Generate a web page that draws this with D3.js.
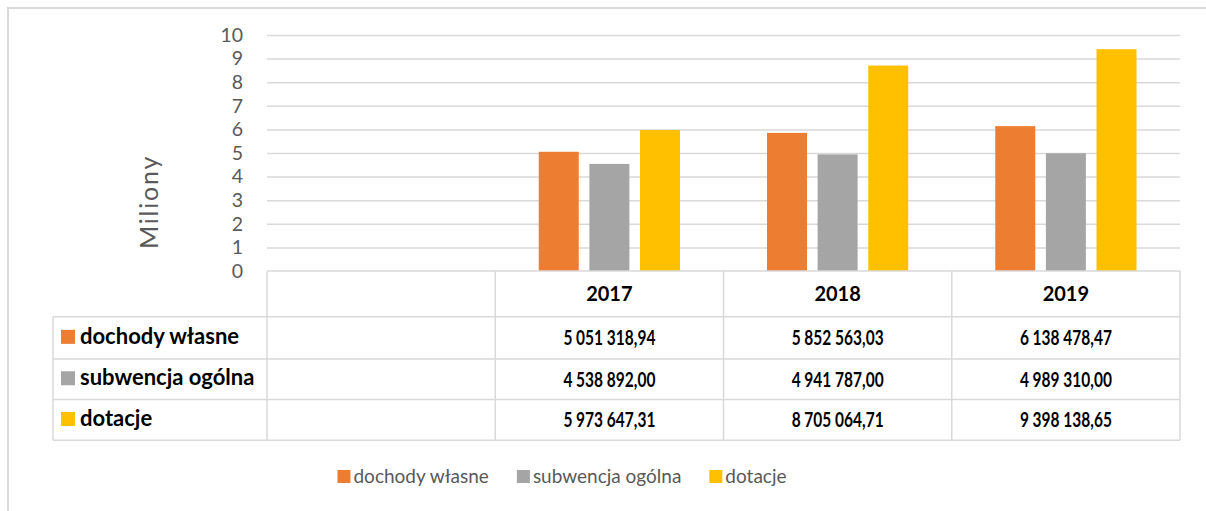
<!DOCTYPE html>
<html>
<head>
<meta charset="utf-8">
<script src="https://cdn.jsdelivr.net/npm/d3@7"></script>
<style>
    body { margin: 0; background: #ffffff; }
    svg { display: block; font-family: Lato, "Open Sans", sans-serif; }
</style>
</head>
<body>
<svg id="budget_chart" width="1206" height="511"></svg>
<script>
// categories (first column of the data table is left empty)
var years = ["", "2017", "2018", "2019"]
var seriesNames = ["dochody własne", "subwencja ogólna", "dotacje"]
var seriesColors = ["#ED7D31", "#A5A5A5", "#FFC000"]

// values in PLN, one array per series
var dochodyWlasne = [null, 5051318.94, 5852563.03, 6138478.47]
var subwencjaOgolna = [null, 4538892.00, 4941787.00, 4989310.00]
var dotacje = [null, 5973647.31, 8705064.71, 9398138.65]

var yTicks = [0, 1, 2, 3, 4, 5, 6, 7, 8, 9, 10]
var yTitle = "Miliony"

var chart_svg
var xScale
var xSubScale
var yScale
var dataset

function build_chart() {
    chart_svg = d3.select("#budget_chart");

    const plot = {left: 267, right: 1180, top: 35, bottom: 271}
    const table = {left: 53, header: 316.7, rows: [316.7, 359, 399.5, 440.3]}
    const gridColor = "#d9d9d9"
    const textColor = "#595959"

    dataset = [dochodyWlasne, subwencjaOgolna, dotacje].map((values, i) => ({
        name: seriesNames[i],
        color: seriesColors[i],
        values: values
    }));

    // chart frame, cut on the right and bottom
    chart_svg.append("path")
        .attr("d", "M8,511V8H1206")
        .attr("fill", "none")
        .attr("stroke", gridColor)
        .attr("stroke-width", 2);

    xScale = d3.scaleBand()
        .domain(years)
        .range([plot.left, plot.right])
        .padding(0);

    xSubScale = d3.scaleBand()
        .domain(seriesNames)
        .range([43.5, xScale.bandwidth() - 43.5])
        .paddingInner(0.21);

    yScale = d3.scaleLinear()
        .domain([0, 10])
        .range([plot.bottom, plot.top]);

    // gridlines
    var grid = chart_svg.append("g")
        .attr("transform", "translate(" + plot.left + ",0)")
        .call(d3.axisLeft(yScale).tickValues(yTicks.slice(1)).tickSize(-(plot.right - plot.left)).tickFormat(""));
    grid.select(".domain").remove();
    grid.selectAll("line").attr("stroke", gridColor).attr("stroke-width", 1.5);

    // y axis labels
    var yAxis = chart_svg.append("g")
        .attr("transform", "translate(" + plot.left + ",0)")
        .call(d3.axisLeft(yScale).tickValues(yTicks).tickSize(0).tickPadding(24));
    yAxis.select(".domain").remove();
    yAxis.selectAll("text")
        .attr("fill", textColor)
        .style("font-size", "19.5px")
        .style("font-family", "Lato");

    chart_svg.append("text")
        .attr("transform", "translate(158,202) rotate(-90)")
        .attr("text-anchor", "middle")
        .attr("fill", textColor)
        .style("font-size", "25px")
        .style("letter-spacing", "1.8px")
        .text(yTitle);

    // bars
    var groups = chart_svg.selectAll("g.series")
        .data(dataset).enter()
        .append("g").classed("series", true)
        .attr("fill", d => d.color);

    groups.selectAll("rect")
        .data(d => d.values.map((v, i) => ({name: d.name, year: years[i], value: v})).filter(d => d.value != null))
        .enter().append("rect")
        .attr("x", d => xScale(d.year) + xSubScale(d.name))
        .attr("width", xSubScale.bandwidth())
        .attr("y", d => yScale(d.value / 1e6))
        .attr("height", d => yScale(0) - yScale(d.value / 1e6));

    // data table lines
    var lines = chart_svg.append("g")
        .attr("stroke", gridColor)
        .attr("stroke-width", 1.5);

    lines.append("line")
        .attr("x1", plot.left).attr("x2", plot.right)
        .attr("y1", plot.bottom).attr("y2", plot.bottom);

    table.rows.forEach(function(y) {
        lines.append("line")
            .attr("x1", table.left).attr("x2", plot.right)
            .attr("y1", y).attr("y2", y);
    });

    years.forEach(function(year) {
        lines.append("line")
            .attr("x1", xScale(year)).attr("x2", xScale(year))
            .attr("y1", plot.bottom).attr("y2", table.rows[table.rows.length - 1]);
    });
    lines.append("line")
        .attr("x1", plot.right).attr("x2", plot.right)
        .attr("y1", plot.bottom).attr("y2", table.rows[table.rows.length - 1]);
    lines.append("line")
        .attr("x1", table.left).attr("x2", table.left)
        .attr("y1", table.rows[0]).attr("y2", table.rows[table.rows.length - 1]);

    // header with years
    chart_svg.selectAll("text.year")
        .data(years.filter(y => y != "")).enter()
        .append("text").classed("year", true)
        .attr("x", d => xScale(d) + xScale.bandwidth() / 2)
        .attr("y", (plot.bottom + table.header) / 2 + 7)
        .attr("text-anchor", "middle")
        .attr("fill", "#000")
        .style("font-size", "20px")
        .style("font-weight", "bold")
        .text(d => d);

    var plNumber = d3.formatLocale({decimal: ",", thousands: "\u00a0", grouping: [3], currency: ["", ""]}).format(",.2f");

    var rows = chart_svg.selectAll("g.table_row")
        .data(dataset).enter()
        .append("g").classed("table_row", true)
        .attr("transform", (d, i) => "translate(0," + ((table.rows[i] + table.rows[i + 1]) / 2) + ")");

    rows.append("rect")
        .attr("x", 61).attr("y", -8)
        .attr("width", 14).attr("height", 14)
        .attr("fill", d => d.color);

    rows.append("text")
        .attr("class", "row_label")
        .attr("x", 80)
        .attr("y", 6)
        .attr("fill", "#000")
        .style("font-size", "22px")
        .style("font-weight", "bold")
        .text(d => d.name);

    // the original uses a condensed bold face for the amounts
    rows.selectAll("text.value")
        .data(d => d.values.map((v, i) => ({year: years[i], value: v})).filter(d => d.value != null))
        .enter().append("text").classed("value", true)
        .attr("x", d => xScale(d.year) + xScale.bandwidth() / 2)
        .attr("y", 7.5)
        .attr("text-anchor", "middle")
        .attr("textLength", 92)
        .attr("lengthAdjust", "spacingAndGlyphs")
        .attr("fill", "#000")
        .style("font-size", "20.5px")
        .style("font-weight", "bold")
        .text(d => plNumber(d.value));

    // legend at the bottom
    var legend = chart_svg.append("g").attr("class", "legend");
    var items = legend.selectAll("g.item")
        .data(dataset).enter()
        .append("g").classed("item", true);

    items.append("rect")
        .attr("y", 470).attr("width", 13).attr("height", 13)
        .attr("fill", d => d.color);

    items.append("text")
        .attr("x", 16)
        .attr("y", 483)
        .attr("fill", textColor)
        .style("font-size", "19px")
        .text(d => d.name);

    var offset = 0
    var widths = []
    items.each(function() {
        var w = 16 + d3.select(this).select("text").node().getComputedTextLength();
        widths.push(offset);
        offset += w + 28;
    });
    var start = 562 - (offset - 28) / 2
    items.attr("transform", (d, i) => "translate(" + (start + widths[i]) + ",0)");
}

build_chart();
</script>
</body>
</html>
